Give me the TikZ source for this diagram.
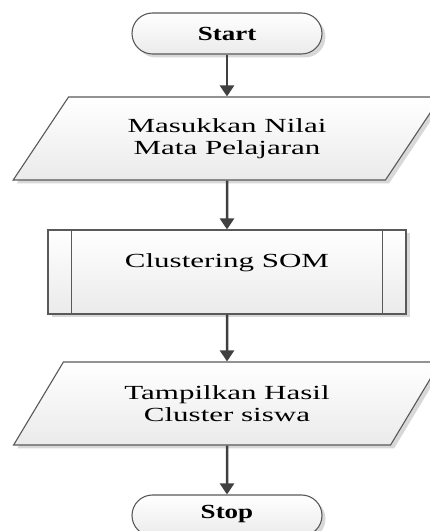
\documentclass[tikz,border=0pt]{standalone}
\usepackage{fontspec}
\setmainfont[FakeStretch=1.55]{Liberation Serif}
\newfontfamily\termfont[FakeStretch=1.35]{Liberation Serif Bold}
\usetikzlibrary{arrows.meta,shapes.geometric,shadows}
\tikzset{
  base/.style={draw=black!65, line width=1.1pt, top color=white, bottom color=black!8,
    drop shadow={shadow xshift=3.5pt, shadow yshift=-3.5pt, fill=black!30, opacity=0.5},
    font=\fontsize{20}{22.5}\selectfont, align=center, inner sep=0pt},
  term/.style={base, rectangle, rounded corners=20.5pt, minimum width=190pt,
    minimum height=41pt, font=\fontsize{20}{22}\selectfont\termfont},
  io/.style={base, trapezium, trapezium left angle=49.5, trapezium right angle=130.5,
    trapezium stretches=true, minimum width=428pt, minimum height=83pt},
  proc/.style={base, rectangle, minimum width=358pt, minimum height=84pt},
  flow/.style={draw=black!75, line width=2.5pt, -{Triangle[width=14pt,length=11pt]}}
}
\begin{document}
\begin{tikzpicture}[x=1pt,y=1pt]
  \useasboundingbox (0,0) rectangle (430,531);
  \node[term] (start) at (227,497.5) {Start};
  \node[io] (input) at (227,392.5) {Masukkan Nilai\\Mata Pelajaran};
  \node[proc] (som) at (227,259) {Clustering SOM\\\mbox{}};
  \node[io] (output) at (227,127.5) {Tampilkan Hasil\\Cluster siswa};
  \node[term] (stop) at (227,15.5) {\raisebox{6.5pt}{Stop}};
  % side bars of the process box
  \draw[draw=black!65, line width=1.1pt] ([xshift=24pt]som.north west) -- ([xshift=24pt]som.south west);
  \draw[draw=black!65, line width=1.1pt] ([xshift=-24pt]som.north east) -- ([xshift=-24pt]som.south east);
  \begin{scope}[flow]
    \draw (start) -- (input);
    \draw (input) -- (som);
    \draw (som) -- (output);
    \draw (output) -- (stop);
  \end{scope}
\end{tikzpicture}
\end{document}
